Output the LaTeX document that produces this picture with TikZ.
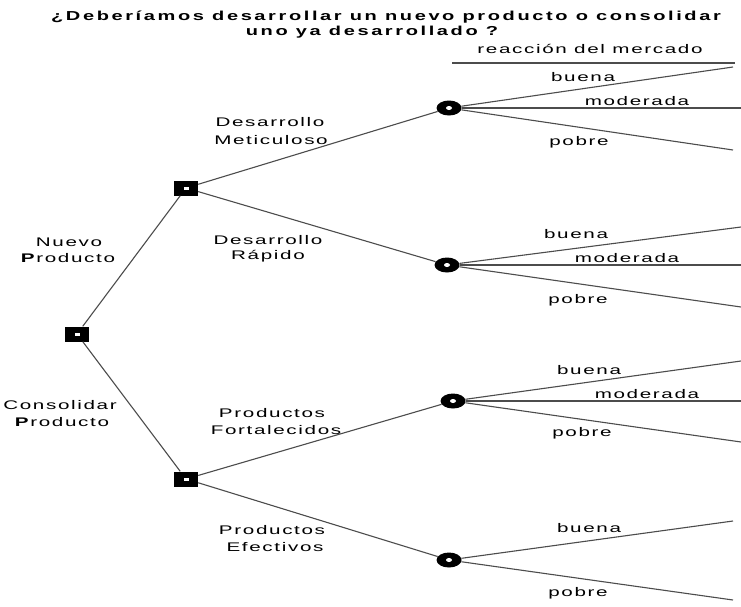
\documentclass[tikz,border=0pt]{standalone}
\usepackage{fontspec}
\setmainfont{Liberation Sans}
\newfontfamily\spfont[LetterSpace=8]{Liberation Sans}
\newfontfamily\tspfont[LetterSpace=13]{Liberation Sans}
\usetikzlibrary{shapes.geometric}
\newcommand{\lbl}[1]{\scalebox{1.65}[1]{\fontsize{12.5}{14}\spfont #1}}
\newcommand{\ttl}[1]{\scalebox{1.54}[1]{\fontsize{13}{15}\tspfont\bfseries #1}}
\begin{document}
\begin{tikzpicture}[x=1pt,y=-1pt,
  edge/.style={draw=black!70, line width=1.1pt},
  decision/.style={rectangle, fill=black, minimum width=24pt, minimum height=15pt, inner sep=0pt,
    path picture={\fill[white] ([xshift=-2.5pt,yshift=-1.5pt]path picture bounding box.center) rectangle ++(5pt,3pt);}},
  chance/.style={ellipse, fill=black, minimum width=25pt, minimum height=15pt, inner sep=0pt,
    path picture={\fill[white] (path picture bounding box.center) ellipse (3pt and 2pt);}},
  txt/.style={inner sep=0pt, text=black}
]
\useasboundingbox (0,0) rectangle (741,606);
\fill[white] (0,0) rectangle (741,606);

% title
\node[txt] (t1) at (386,17) {\ttl{¿Deberíamos desarrollar un nuevo producto o consolidar}};
\node[txt] (t2) at (372,32) {\ttl{uno ya desarrollado ?}};
\node[txt] (rm) at (590,49) {\lbl{reacción del mercado}};
\coordinate (hl) at (452,63);
\coordinate (hr) at (735,63);
\draw[edge] (hl) -- (hr);

% nodes
\node[decision] (root) at (77,334) {};
\node[decision] (d1) at (186,188) {};
\node[decision] (d2) at (186,479) {};
\node[chance] (c1) at (449,108) {};
\node[chance] (c2) at (447,265) {};
\node[chance] (c3) at (453,401) {};
\node[chance] (c4) at (449,560) {};

% end points
\coordinate (e1a) at (733,67);
\coordinate (e1b) at (741,108);
\coordinate (e1c) at (733,150);
\coordinate (e2a) at (741,227);
\coordinate (e2b) at (741,265);
\coordinate (e2c) at (741,307);
\coordinate (e3a) at (741,361);
\coordinate (e3b) at (741,401);
\coordinate (e3c) at (741,442);
\coordinate (e4a) at (733,521);
\coordinate (e4c) at (733,600);

% edges
\draw[edge] (root) -- (d1);
\draw[edge] (root) -- (d2);
\draw[edge] (d1) -- (c1);
\draw[edge] (d1) -- (c2);
\draw[edge] (d2) -- (c3);
\draw[edge] (d2) -- (c4);
\draw[edge] (c1) -- (e1a);
\draw[edge] (c1) -- (e1b);
\draw[edge] (c1) -- (e1c);
\draw[edge] (c2) -- (e2a);
\draw[edge] (c2) -- (e2b);
\draw[edge] (c2) -- (e2c);
\draw[edge] (c3) -- (e3a);
\draw[edge] (c3) -- (e3b);
\draw[edge] (c3) -- (e3c);
\draw[edge] (c4) -- (e4a);
\draw[edge] (c4) -- (e4c);

% branch labels
\node[txt] (l1) at (69,242) {\lbl{Nuevo}};
\node[txt] (l2) at (68,258) {\lbl{\textbf{P}roducto}};
\node[txt] (l3) at (60,405) {\lbl{Consolidar}};
\node[txt] (l4) at (62,422) {\lbl{\textbf{P}roducto}};
\node[txt] (l5) at (270,122) {\lbl{Desarrollo}};
\node[txt] (l6) at (271,140) {\lbl{Meticuloso}};
\node[txt] (l7) at (268,240) {\lbl{Desarrollo}};
\node[txt] (l8) at (268,256) {\lbl{Rápido}};
\node[txt] (l9) at (272,413) {\lbl{Productos}};
\node[txt] (l10) at (276,430) {\lbl{Fortalecidos}};
\node[txt] (l11) at (272,530) {\lbl{Productos}};
\node[txt] (l12) at (275,547) {\lbl{Efectivos}};

% outcome labels
\node[txt] (b1) at (583,77) {\lbl{buena}};
\node[txt] (m1) at (637,101) {\lbl{moderada}};
\node[txt] (p1) at (579,142) {\lbl{pobre}};
\node[txt] (b2) at (576,234) {\lbl{buena}};
\node[txt] (m2) at (627,258) {\lbl{moderada}};
\node[txt] (p2) at (578,300) {\lbl{pobre}};
\node[txt] (b3) at (589,370) {\lbl{buena}};
\node[txt] (m3) at (647,394) {\lbl{moderada}};
\node[txt] (p3) at (582,433) {\lbl{pobre}};
\node[txt] (b4) at (589,528) {\lbl{buena}};
\node[txt] (p4) at (578,593) {\lbl{pobre}};
\end{tikzpicture}
\end{document}
